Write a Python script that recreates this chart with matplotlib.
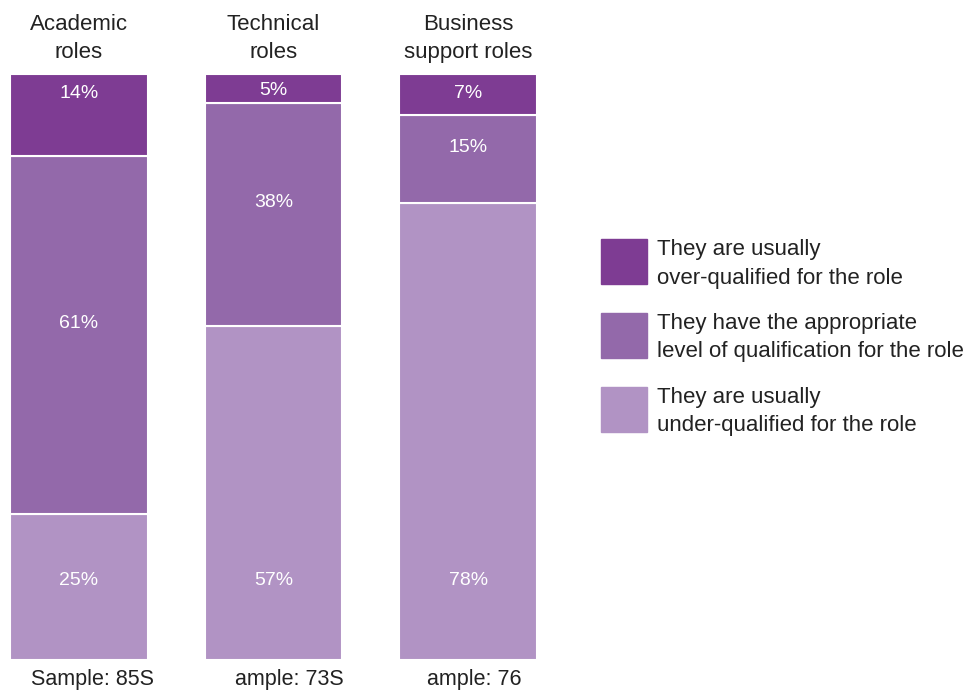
import numpy as np
import matplotlib
matplotlib.use("Agg")
import matplotlib.pyplot as plt
from matplotlib.patches import Rectangle

plt.rcParams['font.family'] = ['Liberation Sans', 'DejaVu Sans']

roles = ['Academic\nroles', 'Technical\nroles', 'Business\nsupport roles']
samples = ['Sample: 85S', 'ample: 73S', 'ample: 76']
sample_shift = [0.072, 0.082, 0.031]
under = [25, 57, 78]
appropriate = [61, 38, 15]
over = [14, 5, 7]
series_names = ['They are usually\nover-qualified for the role',
                'They have the appropriate\nlevel of qualification for the role',
                'They are usually\nunder-qualified for the role']
colors = ['#7e3c93', '#9369aa', '#b193c4']

fig = plt.figure(figsize=(9.66, 6.91), dpi=100)
ax = fig.add_axes([10 / 966, 1 - 660 / 691, 527 / 966, 586 / 691])

x = np.arange(len(roles))
w = 0.708
under = np.array(under)
appropriate = np.array(appropriate)
over = np.array(over)

ax.bar(x, under, w, color=colors[2], edgecolor='white', linewidth=1.5)
ax.bar(x, appropriate, w, bottom=under, color=colors[1], edgecolor='white', linewidth=1.5)
ax.bar(x, over, w, bottom=under + appropriate, color=colors[0], edgecolor='white', linewidth=1.5)

for i in range(len(x)):
    ax.text(x[i], 13.5, f'{under[i]}%', ha='center', va='center', color='white', fontsize=14)
    ax.text(x[i], under[i] + appropriate[i] / 2 + 2, f'{appropriate[i]}%', ha='center', va='center',
            color='white', fontsize=14)
    ax.text(x[i], 100 - min(over[i] / 2, 3) - 0.3, f'{over[i]}%', ha='center', va='center',
            color='white', fontsize=14)
    ax.text(x[i], 106.0, roles[i], ha='center', va='center', fontsize=16, color='#222222',
            linespacing=1.45)
    ax.text(x[i] + sample_shift[i], -3.4, samples[i], ha='center', va='center', fontsize=15.5,
            color='#222222')

ax.set_xlim(-w / 2, 2 + w / 2)
ax.set_ylim(0, 100)
ax.axis('off')

# legend
ys = [261.5, 335, 409]
for c, name, yc in zip(colors, series_names, ys):
    fig.add_artist(Rectangle((601 / 966, 1 - (yc + 22.5) / 691), 46 / 966, 45 / 691,
                             transform=fig.transFigure, color=c))
    fig.text(657 / 966, 1 - (yc + 2.5) / 691, name, ha='left', va='center', fontsize=16,
             color='#222222', linespacing=1.45)

plt.savefig('out.png', dpi=100)
